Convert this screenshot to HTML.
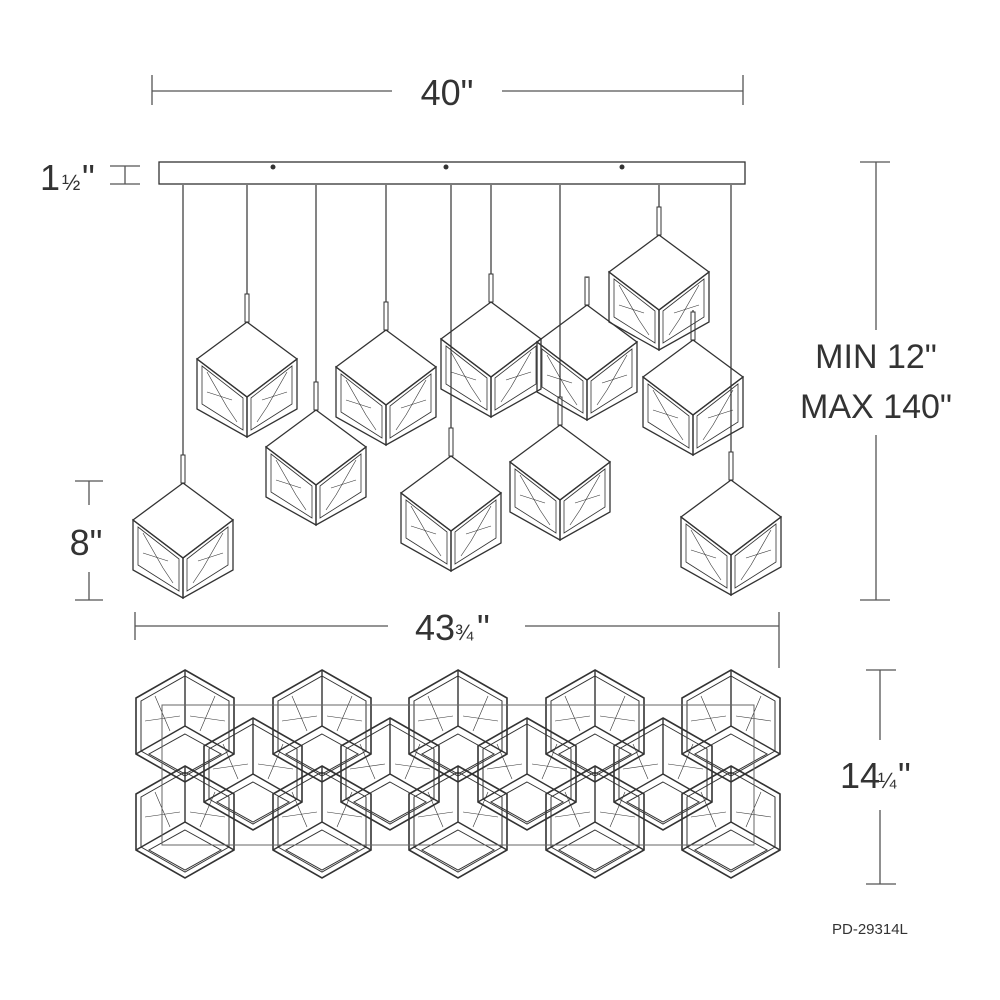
<!DOCTYPE html>
<html><head><style>body{margin:0;background:#fff}svg{display:block}text{font-family:"Liberation Sans",sans-serif;fill:#333}</style></head>
<body>
<svg id="s" width="1000" height="1000" viewBox="0 0 1000 1000" xmlns="http://www.w3.org/2000/svg">
<g stroke="#555" stroke-width="1.3" fill="none">
<line x1="152" y1="75" x2="152" y2="105"/><line x1="743" y1="75" x2="743" y2="105"/>
<line x1="152" y1="91" x2="392" y2="91"/><line x1="502" y1="91" x2="743" y2="91"/>
<line x1="110" y1="166" x2="140" y2="166"/><line x1="110" y1="184" x2="140" y2="184"/><line x1="125" y1="166" x2="125" y2="184"/>
<line x1="860" y1="162" x2="890" y2="162"/><line x1="860" y1="600" x2="890" y2="600"/>
<line x1="876" y1="162" x2="876" y2="330"/><line x1="876" y1="435" x2="876" y2="600"/>
<line x1="75" y1="481" x2="103" y2="481"/><line x1="75" y1="600" x2="103" y2="600"/>
<line x1="89" y1="481" x2="89" y2="505"/><line x1="89" y1="572" x2="89" y2="600"/>
<line x1="135" y1="612" x2="135" y2="640"/><line x1="779" y1="612" x2="779" y2="668"/>
<line x1="135" y1="626" x2="388" y2="626"/><line x1="525" y1="626" x2="779" y2="626"/>
<line x1="866" y1="670" x2="896" y2="670"/><line x1="866" y1="884" x2="896" y2="884"/>
<line x1="880" y1="670" x2="880" y2="740"/><line x1="880" y1="810" x2="880" y2="884"/>
<rect x="159" y="162" width="586" height="22" stroke="#333"/>
</g>
<circle cx="273" cy="167" r="2.5" fill="#333"/><circle cx="446" cy="167" r="2.5" fill="#333"/><circle cx="622" cy="167" r="2.5" fill="#333"/>
<text x="447" y="105" font-size="36" text-anchor="middle">40"</text>
<text x="40" y="190" font-size="36">1</text><text x="62" y="190" font-size="22">½</text><text x="82" y="190" font-size="36">"</text>
<text x="876" y="368" font-size="34" text-anchor="middle">MIN 12"</text>
<text x="876" y="418" font-size="34" text-anchor="middle">MAX 140"</text>
<text x="86" y="555" font-size="36" text-anchor="middle">8"</text>
<text x="415" y="640" font-size="36">43</text><text x="455" y="640" font-size="22">¾</text><text x="477" y="640" font-size="36">"</text>
<text x="840" y="788" font-size="36">14</text><text x="878" y="788" font-size="22">¼</text><text x="898" y="788" font-size="36">"</text>
<text x="832" y="934" font-size="15">PD-29314L</text>
<g id="g" fill="none" stroke="#333"></g>
</svg>
<script>
var g=document.getElementById('g'),h='';
function L(a,b,c,d,w){h+='<line x1="'+a+'" y1="'+b+'" x2="'+c+'" y2="'+d+'" stroke-width="'+(w||1)+'"/>';}
function P(p,w){h+='<polygon points="'+p.map(function(q){return q.join(',')}).join(' ')+'" stroke-width="'+(w||1)+'"/>';}
var cubes=[[183,483,185],[247,322,185],[316,410,185],[386,330,185],[451,456,185],[491,302,185],[560,425,185],[587,305,278],[659,235,185],[693,340,310],[731,480,185]];
cubes.forEach(function(c){var x=c[0],t=c[1];
 L(x,c[2],x,t-28,1.2);P([[x-2,t-28],[x+2,t-28],[x+2,t],[x-2,t]],1);
 P([[x,t],[x+50,t+37],[x,t+75],[x-50,t+37]],1.3);
 P([[x-50,t+37],[x,t+75],[x,t+115],[x-50,t+87]],1.3);
 P([[x+50,t+37],[x,t+75],[x,t+115],[x+50,t+87]],1.3);
 P([[x-45,t+44],[x-4,t+76],[x-4,t+108],[x-45,t+82]],0.8);
 P([[x+45,t+44],[x+4,t+76],[x+4,t+108],[x+45,t+82]],0.8);
 L(x-40,t+50,x-20,t+85,.6);L(x-20,t+85,x-10,t+100,.6);L(x-40,t+70,x-15,t+78,.6);
 L(x+40,t+50,x+20,t+85,.6);L(x+20,t+85,x+10,t+100,.6);L(x+40,t+70,x+15,t+78,.6);
});
function hex(x,y){var r=56,w=49;
 var v=[[x,y-r],[x+w,y-r/2],[x+w,y+r/2],[x,y+r],[x-w,y+r/2],[x-w,y-r/2]];P(v,1.6);
 var r2=50,w2=44;P([[x,y-r2],[x+w2,y-r2/2],[x+w2,y+r2/2],[x,y+r2],[x-w2,y+r2/2],[x-w2,y-r2/2]],1);
 L(x,y-r,x,y,1.4);L(x,y,x+w,y+r/2,1.4);L(x,y,x-w,y+r/2,1.4);
 P([[x,y+8],[x+36,y+28],[x,y+48],[x-36,y+28]],1);
 L(x-30,y-30,x-15,y+5,.6);L(x+30,y-30,x+15,y+5,.6);L(x-40,y-5,x-5,y-10,.6);L(x+40,y-5,x+5,y-10,.6);
}
[185,322,458,595,731].forEach(function(x){hex(x,726);});
[253,390,527,663].forEach(function(x){hex(x,774);});
[185,322,458,595,731].forEach(function(x){hex(x,822);});
h+='<rect x="162" y="705" width="592" height="140" stroke-width="1" stroke="#666"/>';
g.innerHTML=h;
</script>
</body></html>
